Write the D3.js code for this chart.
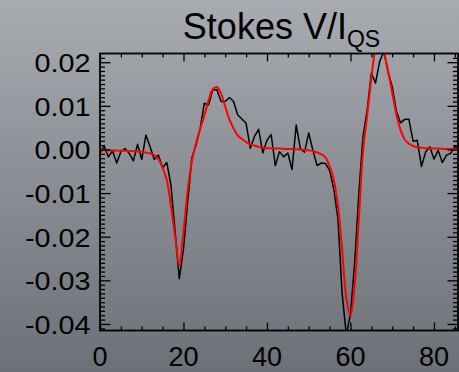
<!DOCTYPE html>
<html>
<head>
<meta charset="utf-8">
<script src="https://cdn.jsdelivr.net/npm/d3@7"></script>
<style>
  html, body { margin: 0; padding: 0; background: #8a8e94; }
  svg { display: block; }
  text { font-family: "Liberation Sans", Arial, Helvetica, sans-serif; fill: #000; }
</style>
</head>
<body>
<svg id="chart" width="459" height="372"></svg>
<script>
// Observed Stokes V/I_QS profile, one sample per pixel (x = 0..86)
const observed = [
  -0.0009, 0.0008, -0.0017, -0.0003, -0.0031, -0.0005, 0.0002, -0.0009, -0.0026, 0.0012,
  -0.0023, 0.0033, 0.0006, -0.0023, -0.0013, -0.0042, -0.0030, -0.0082, -0.0190, -0.0296,
  -0.0228, -0.0120, -0.0020, 0.0010, 0.0048, 0.0106, 0.0102, 0.0137, 0.0137, 0.0110,
  0.0110, 0.0119, 0.0110, 0.0079, 0.0070, 0.0060, 0.0003, 0.0030, 0.0046, -0.0008,
  0.0021, 0.0034, -0.0037, -0.0005, -0.0017, -0.0008, -0.0046, 0.0056, 0.0002, -0.0006,
  0.0038, -0.0002, -0.0037, -0.0031, -0.0032, -0.0048, -0.0090, -0.0160, -0.0330, -0.0425,
  -0.0378, -0.0260, -0.0100, 0.0030, 0.0090, 0.0175, 0.0152, 0.0202, 0.0225, 0.0178,
  0.0144, 0.0087, 0.0061, 0.0069, 0.0069, 0.0019, 0.0021, -0.0039, -0.0006, 0.0006,
  -0.0022, -0.0002, -0.0030, -0.0013, -0.0009, 0.0007, 0.0002
];

// Model fit to the profile, same sampling
const fitted = [
  -0.0002, -0.0002, -0.0002, -0.00025, -0.00025, -0.0003, -0.0003, -0.00035, -0.0004, -0.00045,
  -0.00055, -0.0007, -0.0009, -0.0013, -0.0022, -0.0042, -0.0070, -0.0130, -0.0200, -0.0265,
  -0.0190, -0.0095, -0.0028, 0.0015, 0.0047, 0.0078, 0.0112, 0.0138, 0.0143, 0.0128,
  0.0098, 0.0069, 0.0048, 0.0032, 0.0024, 0.0017, 0.0012, 0.0009, 0.0006, 0.00045,
  0.0003, 0.00025, 0.0002, 0.0002, 0.00015, 0.0001, 0.0001, 0.00005, 0.0, -0.0001,
  -0.0002, -0.0004, -0.0007, -0.0011, -0.0018, -0.0038, -0.0070, -0.0130, -0.0230, -0.0340,
  -0.0382, -0.0310, -0.0160, -0.0005, 0.0078, 0.0163, 0.0235, 0.0270, 0.0225, 0.0180,
  0.0130, 0.0080, 0.0045, 0.0023, 0.0013, 0.0008, 0.0005, 0.0004, 0.0003, 0.00025,
  0.0002, 0.0002, 0.00015, 0.0001, 0.0001, 0.00005, 0.0
];

const xMajorTicks = [0, 20, 40, 60, 80];
const yMajorTicks = [0.02, 0.01, 0.00, -0.01, -0.02, -0.03, -0.04];
const yTickLabels = ["0.02", "0.01", "0.00", "-0.01", "-0.02", "-0.03", "-0.04"];

const svg = d3.select("#chart");
const W = 459, H = 372;
const plot = { left: 100, right: 459, top: 53.5, bottom: 330.5 };

// Background: vertical grey gradient
const defs = svg.append("defs");
const grad = defs.append("linearGradient")
  .attr("id", "bg").attr("x1", 0).attr("y1", 0).attr("x2", 0).attr("y2", 1);
grad.append("stop").attr("offset", "0%").attr("stop-color", "#a8acb1");
grad.append("stop").attr("offset", "100%").attr("stop-color", "#6c7077");
svg.append("rect").attr("width", W).attr("height", H).attr("fill", "url(#bg)");

defs.append("clipPath").attr("id", "plotclip")
  .append("rect")
  .attr("x", plot.left).attr("y", plot.top)
  .attr("width", plot.right - plot.left).attr("height", plot.bottom - plot.top);

const x = d3.scaleLinear().domain([0, 86]).range([plot.left, plot.right]);
const y = d3.scaleLinear().domain([-0.0415, 0.022]).range([plot.bottom, plot.top]);

// Curves
const lineObs = d3.line().x((d, i) => x(i)).y(d => y(d));
const lineFit = d3.line().x((d, i) => x(i)).y(d => y(d)).curve(d3.curveCatmullRom.alpha(0.5));

const curves = svg.append("g").attr("clip-path", "url(#plotclip)");
curves.append("path").datum(observed)
  .attr("d", lineObs).attr("fill", "none")
  .attr("stroke", "#000").attr("stroke-width", 1.5).attr("stroke-linejoin", "round");
curves.append("path").datum(fitted)
  .attr("d", lineFit).attr("fill", "none")
  .attr("stroke", "#ff0000").attr("stroke-width", 2).attr("stroke-linejoin", "round");

// Axes: ticks point inward on all four sides
const xMinor = d3.range(0, 86, 5).filter(v => !xMajorTicks.includes(v));
const yMinor = d3.range(-41, 22).map(v => v / 1000).filter(v => Math.abs(Math.round(v * 100) - v * 100) > 1e-6);

const bottomAxis = d3.axisBottom(x).tickValues(xMajorTicks).tickSizeInner(-8).tickSizeOuter(0).tickFormat("");
const bottomMinor = d3.axisBottom(x).tickValues(xMinor).tickSizeInner(-4).tickSizeOuter(0).tickFormat("");
const topAxis = d3.axisTop(x).tickValues(xMajorTicks).tickSizeInner(-8).tickSizeOuter(0).tickFormat("");
const topMinor = d3.axisTop(x).tickValues(xMinor).tickSizeInner(-4).tickSizeOuter(0).tickFormat("");
const leftAxis = d3.axisLeft(y).tickValues(yMajorTicks).tickSizeInner(-10.5).tickSizeOuter(0).tickFormat("");
const leftMinor = d3.axisLeft(y).tickValues(yMinor).tickSizeInner(-5).tickSizeOuter(0).tickFormat("");
const rightAxis = d3.axisRight(y).tickValues(yMajorTicks).tickSizeInner(-10.5).tickSizeOuter(0).tickFormat("");
const rightMinor = d3.axisRight(y).tickValues(yMinor).tickSizeInner(-5).tickSizeOuter(0).tickFormat("");

function styleAxis(g) {
  g.selectAll(".domain").remove();
  g.selectAll(".tick line").attr("stroke", "#000").attr("stroke-width", 1.3);
}
svg.append("g").attr("transform", `translate(0,${plot.bottom})`).call(bottomAxis).call(styleAxis);
svg.append("g").attr("transform", `translate(0,${plot.bottom})`).call(bottomMinor).call(styleAxis);
svg.append("g").attr("transform", `translate(0,${plot.top})`).call(topAxis).call(styleAxis);
svg.append("g").attr("transform", `translate(0,${plot.top})`).call(topMinor).call(styleAxis);
svg.append("g").attr("transform", `translate(${plot.left},0)`).call(leftAxis).call(styleAxis);
svg.append("g").attr("transform", `translate(${plot.left},0)`).call(leftMinor).call(styleAxis);
svg.append("g").attr("transform", `translate(${plot.right - 1},0)`).call(rightAxis).call(styleAxis);
svg.append("g").attr("transform", `translate(${plot.right - 1},0)`).call(rightMinor).call(styleAxis);

// Frame
svg.append("rect")
  .attr("x", plot.left).attr("y", plot.top)
  .attr("width", plot.right - 1 - plot.left).attr("height", plot.bottom - plot.top)
  .attr("fill", "none").attr("stroke", "#000").attr("stroke-width", 1.8);

// Tick labels
svg.append("g").selectAll("text").data(xMajorTicks).join("text")
  .attr("x", d => x(d)).attr("y", 366)
  .attr("text-anchor", "middle").attr("font-size", 27)
  .text(d => d);

svg.append("g").selectAll("text").data(yMajorTicks).join("text")
  .attr("transform", d => `translate(90.5,${y(d) + 10}) scale(1.15,1)`)
  .attr("text-anchor", "end").attr("font-size", 25)
  .text((d, i) => yTickLabels[i]);

// Title with subscript
const title = svg.append("text")
  .attr("x", (plot.left + plot.right) / 2 + 2).attr("y", 39)
  .attr("text-anchor", "middle").attr("font-size", 36);
title.append("tspan").text("Stokes V/I");
title.append("tspan").attr("font-size", 23).attr("dy", 8).text("QS");
</script>
</body>
</html>
